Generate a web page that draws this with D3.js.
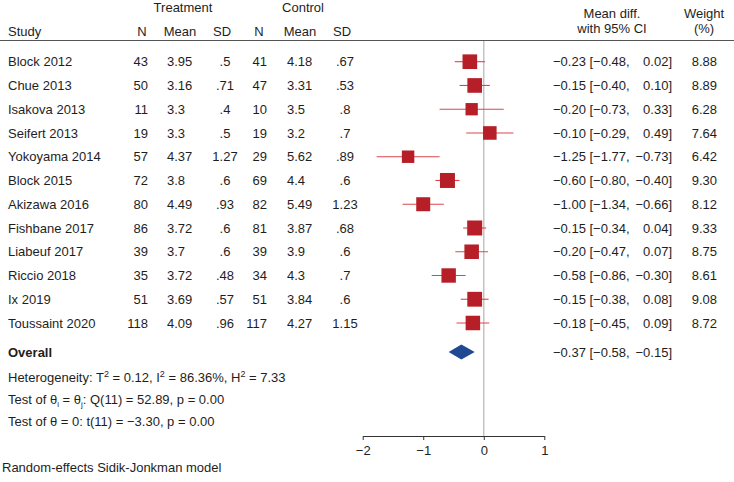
<!DOCTYPE html>
<html>
<head>
<meta charset="utf-8">
<script src="https://cdn.jsdelivr.net/npm/d3@7"></script>
<style>
  body { margin: 0; background: #fff; }
  svg { display: block; font-family: "Liberation Sans", Arial, sans-serif; }
  text { fill: #1e1e1e; font-size: 13px; }
</style>
</head>
<body>
<script>
// Datos del forest plot
const studies = ["Block 2012", "Chue 2013", "Isakova 2013", "Seifert 2013", "Yokoyama 2014", "Block 2015",
  "Akizawa 2016", "Fishbane 2017", "Liabeuf 2017", "Riccio 2018", "Ix 2019", "Toussaint 2020"];
const trtN = ["43", "50", "11", "19", "57", "72", "80", "86", "39", "35", "51", "118"];
const trtMean = ["3.95", "3.16", "3.3", "3.3", "4.37", "3.8", "4.49", "3.72", "3.7", "3.72", "3.69", "4.09"];
const trtSD = [".5", ".71", ".4", ".5", "1.27", ".6", ".93", ".6", ".6", ".48", ".57", ".96"];
const ctlN = ["41", "47", "10", "19", "29", "69", "82", "81", "39", "34", "51", "117"];
const ctlMean = ["4.18", "3.31", "3.5", "3.2", "5.62", "4.4", "5.49", "3.87", "3.9", "4.3", "3.84", "4.27"];
const ctlSD = [".67", ".53", ".8", ".7", ".89", ".6", "1.23", ".68", ".6", ".7", ".6", "1.15"];

// diferencia de medias dibujada y la impresa (Seifert aparece como -0.10 en el texto)
const estimate = [-0.23, -0.15, -0.20, 0.10, -1.25, -0.60, -1.00, -0.15, -0.20, -0.58, -0.15, -0.18];
const printedEstimate = [-0.23, -0.15, -0.20, -0.10, -1.25, -0.60, -1.00, -0.15, -0.20, -0.58, -0.15, -0.18];
const lower = [-0.48, -0.40, -0.73, -0.29, -1.77, -0.80, -1.34, -0.34, -0.47, -0.86, -0.38, -0.45];
const upper = [0.02, 0.10, 0.33, 0.49, -0.73, -0.40, -0.66, 0.04, 0.07, -0.30, 0.08, 0.09];
const weight = ["8.88", "8.89", "6.28", "7.64", "6.42", "9.30", "8.12", "9.33", "8.75", "8.61", "9.08", "8.72"];

const overall = { est: -0.37, lo: -0.58, hi: -0.15 };
const xTicks = [-2, -1, 0, 1];

const width = 734, height = 482;

const svg = d3.select("body").append("svg")
  .attr("width", width)
  .attr("height", height);

const fmt = v => d3.format(".2f")(v).replace("-", "\u2212");

// Escalas
const x = d3.scaleLinear().domain([-2, 1]).range([362.7, 544.3]);
const y = d3.scaleLinear().domain([0, 11]).range([61.7, 323]);
const yOverall = 352;
const size = d3.scaleSqrt().domain([0, 9.33]).range([0, 15]);

const data = studies.map((s, i) => ({
  study: s, trtN: trtN[i], trtMean: trtMean[i], trtSD: trtSD[i],
  ctlN: ctlN[i], ctlMean: ctlMean[i], ctlSD: ctlSD[i],
  est: estimate[i], shown: printedEstimate[i], lo: lower[i], hi: upper[i], w: weight[i]
}));

// Cabecera
const head = svg.append("g");
head.append("text").attr("x", 183).attr("y", 12).attr("text-anchor", "middle").text("Treatment");
head.append("text").attr("x", 303).attr("y", 12).attr("text-anchor", "middle").text("Control");
head.append("text").attr("x", 8).attr("y", 36).text("Study");
[["N", 142], ["Mean", 180], ["SD", 222], ["N", 259], ["Mean", 300], ["SD", 342]].forEach(([t, cx]) => {
  head.append("text").attr("x", cx).attr("y", 36).attr("text-anchor", "middle").text(t);
});
head.append("text").attr("x", 612).attr("y", 18).attr("text-anchor", "middle").text("Mean diff.");
head.append("text").attr("x", 612).attr("y", 33).attr("text-anchor", "middle").text("with 95% CI");
head.append("text").attr("x", 704).attr("y", 18).attr("text-anchor", "middle").text("Weight");
head.append("text").attr("x", 704).attr("y", 33).attr("text-anchor", "middle").text("(%)");

svg.append("line")
  .attr("x1", 0).attr("x2", width).attr("y1", 40.5).attr("y2", 40.5)
  .attr("stroke", "#555").attr("stroke-width", 1);

// Linea vertical en cero
svg.append("line")
  .attr("x1", x(0)).attr("x2", x(0)).attr("y1", 41).attr("y2", 436)
  .attr("stroke", "#c4c4c4").attr("stroke-width", 1.5);

// Filas de la tabla
const cols = [
  { key: "study", x: 8, anchor: "start" },
  { key: "trtN", x: 148, anchor: "end" },
  { key: "trtMean", x: 167, anchor: "start" },
  { key: "trtSD", x: 225, anchor: "middle" },
  { key: "ctlN", x: 267, anchor: "end" },
  { key: "ctlMean", x: 287, anchor: "start" },
  { key: "ctlSD", x: 345, anchor: "middle" }
];

const rows = svg.selectAll(".row")
  .data(data)
  .enter().append("g")
  .attr("class", "row")
  .attr("transform", (d, i) => `translate(0,${y(i)})`);

cols.forEach(c => {
  rows.append("text")
    .attr("x", c.x).attr("dy", "0.35em")
    .attr("text-anchor", c.anchor)
    .text(d => d[c.key]);
});

rows.append("text").attr("x", 553).attr("dy", "0.35em")
  .text(d => `${fmt(d.shown)} [${fmt(d.lo)},`);
rows.append("text").attr("x", 672).attr("dy", "0.35em").attr("text-anchor", "end")
  .text(d => `${fmt(d.hi)}]`);
rows.append("text").attr("x", 717).attr("dy", "0.35em").attr("text-anchor", "end")
  .text(d => d.w);

// Intervalos de confianza y cuadrados
rows.append("line")
  .attr("x1", d => x(d.lo)).attr("x2", d => x(d.hi))
  .attr("stroke", "#d9474e").attr("stroke-width", 1.1);

rows.append("rect")
  .attr("x", d => x(d.est) - size(+d.w) / 2)
  .attr("y", d => -size(+d.w) / 2)
  .attr("width", d => size(+d.w))
  .attr("height", d => size(+d.w))
  .attr("fill", "#b71f28");

// Global
svg.append("text").attr("x", 8).attr("y", yOverall).attr("dy", "0.35em")
  .style("font-weight", "bold").text("Overall");
svg.append("path")
  .attr("d", `M${x(overall.lo)},${yOverall} L${x(overall.est)},${yOverall - 7.5} L${x(overall.hi)},${yOverall} L${x(overall.est)},${yOverall + 7.5} Z`)
  .attr("fill", "#1d4a93");
svg.append("text").attr("x", 553).attr("y", yOverall).attr("dy", "0.35em")
  .text(`${fmt(overall.est)} [${fmt(overall.lo)},`);
svg.append("text").attr("x", 672).attr("y", yOverall).attr("dy", "0.35em").attr("text-anchor", "end")
  .text(`${fmt(overall.hi)}]`);

// Notas
const het = svg.append("text").attr("x", 8).attr("y", 377).attr("dy", "0.35em");
het.append("tspan").text("Heterogeneity: T");
het.append("tspan").attr("dy", -5).style("font-size", "9px").text("2");
het.append("tspan").attr("dy", 5).text(" = 0.12, I");
het.append("tspan").attr("dy", -5).style("font-size", "9px").text("2");
het.append("tspan").attr("dy", 5).text(" = 86.36%, H");
het.append("tspan").attr("dy", -5).style("font-size", "9px").text("2");
het.append("tspan").attr("dy", 5).text(" = 7.33");

const t1 = svg.append("text").attr("x", 8).attr("y", 399).attr("dy", "0.35em");
t1.append("tspan").text("Test of \u03b8");
t1.append("tspan").attr("dy", 3).style("font-size", "8px").text("i");
t1.append("tspan").attr("dy", -3).text(" = \u03b8");
t1.append("tspan").attr("dy", 3).style("font-size", "8px").text("j");
t1.append("tspan").attr("dy", -3).text(": Q(11) = 52.89, p = 0.00");

svg.append("text").attr("x", 8).attr("y", 421).attr("dy", "0.35em")
  .text("Test of \u03b8 = 0: t(11) = \u22123.30, p = 0.00");

svg.append("text").attr("x", 2).attr("y", 467).attr("dy", "0.35em")
  .text("Random-effects Sidik-Jonkman model");

// Eje X
const axis = svg.append("g")
  .attr("transform", "translate(0,436)")
  .call(d3.axisBottom(x).tickValues(xTicks).tickSize(4).tickSizeOuter(0)
    .tickFormat(d => d3.format("d")(d).replace("-", "\u2212")));
axis.select(".domain").attr("stroke", "#333");
axis.selectAll(".tick line").attr("stroke", "#333");
axis.selectAll("text").style("font-size", "13px").attr("fill", "#1e1e1e")
  .attr("font-family", "Liberation Sans, Arial, sans-serif").attr("dy", "0.9em");
</script>
</body>
</html>
